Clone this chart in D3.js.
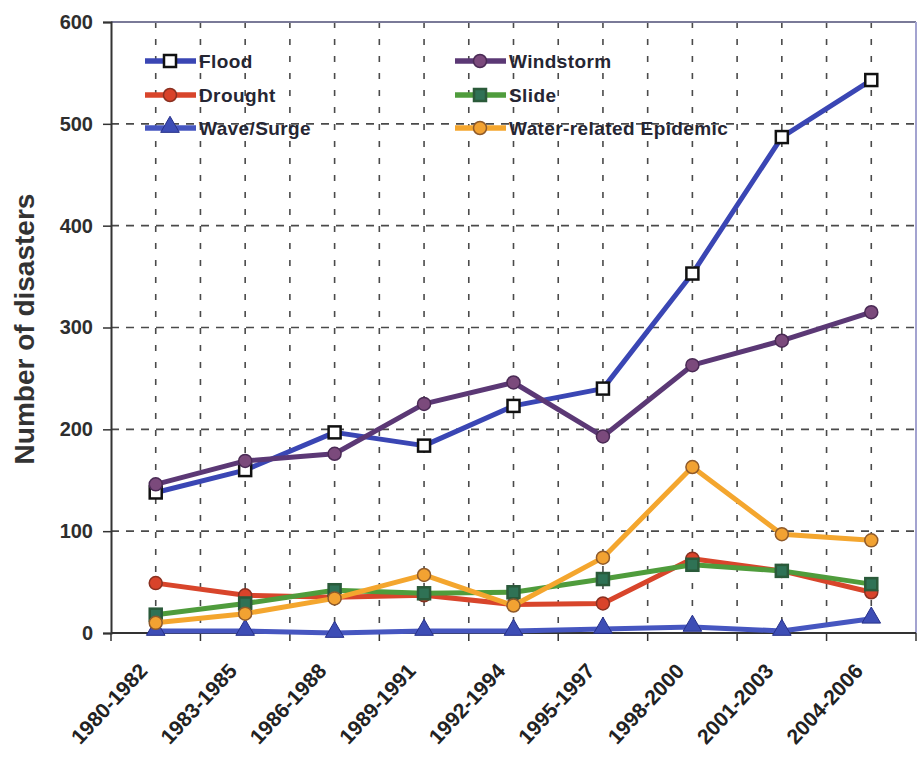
<!DOCTYPE html>
<html>
<head>
<meta charset="utf-8">
<script src="https://cdn.jsdelivr.net/npm/d3@7"></script>
<style>
  html, body { margin: 0; padding: 0; background: #fff; }
  svg { display: block; font-family: "Liberation Sans", Arial, sans-serif; }
</style>
</head>
<body>
<svg id="chart" width="921" height="761"></svg>
<script>
// Periods on the x axis
const periods = ["1980-1982", "1983-1985", "1986-1988", "1989-1991", "1992-1994",
                 "1995-1997", "1998-2000", "2001-2003", "2004-2006"];

// Number of disasters per period, by type
const flood     = [138, 160, 197, 184, 223, 240, 353, 487, 543];
const windstorm = [146, 169, 176, 225, 246, 193, 263, 287, 315];
const drought   = [49, 37, 35, 37, 28, 29, 73, 61, 40];
const slide     = [18, 29, 42, 39, 40, 53, 67, 61, 48];
const epidemic  = [10, 19, 34, 57, 27, 74, 163, 97, 91];
const waveSurge = [2, 2, 0, 2, 2, 4, 6, 2, 14];

const yTicks = [0, 100, 200, 300, 400, 500, 600];
const yTitle = "Number of disasters";

const series = [
  { name: "Flood", values: flood, line: "#3a46b4", marker: "square",
    fill: "#ffffff", stroke: "#111111", col: 0, row: 0 },
  { name: "Windstorm", values: windstorm, line: "#5b3875", marker: "circle",
    fill: "#7b4a7c", stroke: "#4a2a55", col: 1, row: 0 },
  { name: "Drought", values: drought, line: "#d8452b", marker: "circle",
    fill: "#d9432a", stroke: "#8a3020", col: 0, row: 1 },
  { name: "Slide", values: slide, line: "#4f9c3c", marker: "square",
    fill: "#2f7255", stroke: "#2a5a3a", col: 1, row: 1 },
  { name: "Wave/Surge", values: waveSurge, line: "#4656c0", marker: "triangle",
    fill: "#3d4db5", stroke: "#27318a", col: 0, row: 2 },
  { name: "Water-related Epidemic", values: epidemic, line: "#f4a62e", marker: "circle",
    fill: "#f2a232", stroke: "#8f5a2a", col: 1, row: 2 }
];
// Draw order: lower series first so the upper lines sit on top
const drawOrder = ["Wave/Surge", "Drought", "Slide", "Water-related Epidemic", "Flood", "Windstorm"];

const svg = d3.select("#chart");
const plot = { left: 111, right: 916, top: 22, bottom: 633 };

const x = d3.scaleBand().domain(periods).range([plot.left, plot.right]).padding(0);
const y = d3.scaleLinear().domain([0, 600]).range([plot.bottom, plot.top]);
const cx = d => x(d) + x.bandwidth() / 2;

// Grid: dashed horizontal lines at each 100, vertical lines at band edges and centres
const grid = svg.append("g");
grid.selectAll("line.h").data(yTicks.filter(t => t > 0 && t < 600)).join("line")
  .attr("x1", plot.left).attr("x2", plot.right)
  .attr("y1", d => y(d)).attr("y2", d => y(d))
  .attr("stroke", "#4a4a4a").attr("stroke-width", 1.6).attr("stroke-dasharray", "8,7");

const vPos = [];
periods.forEach((p, i) => {
  if (i > 0) vPos.push(x(p));
  vPos.push(cx(p));
});
grid.selectAll("line.v").data(vPos).join("line")
  .attr("x1", d => d).attr("x2", d => d)
  .attr("y1", plot.top).attr("y2", plot.bottom)
  .attr("stroke", "#4a4a4a").attr("stroke-width", 1.6).attr("stroke-dasharray", "6,11");

// Plot frame: top and right edges
svg.append("line").attr("x1", plot.left).attr("x2", plot.right)
  .attr("y1", plot.top).attr("y2", plot.top)
  .attr("stroke", "#7a7a98").attr("stroke-width", 2);
svg.append("line").attr("x1", plot.right).attr("x2", plot.right)
  .attr("y1", plot.top).attr("y2", plot.bottom)
  .attr("stroke", "#a3a3d0").attr("stroke-width", 2);

// Y axis
const yAxis = svg.append("g").attr("transform", `translate(${plot.left},0)`)
  .call(d3.axisLeft(y).tickValues(yTicks).tickSize(8).tickPadding(10));
yAxis.select(".domain").attr("stroke", "#333").attr("stroke-width", 2);
yAxis.selectAll(".tick line").attr("stroke", "#333").attr("stroke-width", 1.5);
yAxis.selectAll(".tick text").attr("font-size", 20).attr("font-weight", "bold")
  .attr("fill", "#2e2e2e").attr("font-family", "Liberation Sans, Arial, sans-serif");

// X axis with ticks at the band edges
const xAxis = svg.append("g").attr("transform", `translate(0,${plot.bottom})`);
xAxis.append("line").attr("x1", plot.left).attr("x2", plot.right)
  .attr("stroke", "#333").attr("stroke-width", 2);
const edges = periods.map(p => x(p)).concat([plot.right]);
xAxis.selectAll("line.t").data(edges).join("line")
  .attr("x1", d => d).attr("x2", d => d).attr("y1", 0).attr("y2", 8)
  .attr("stroke", "#333").attr("stroke-width", 1.5);
xAxis.selectAll("text").data(periods).join("text")
  .attr("transform", d => `translate(${cx(d) - 7},${39}) rotate(-47)`)
  .attr("text-anchor", "end")
  .attr("font-size", 21).attr("font-weight", "bold").attr("fill", "#222")
  .text(d => d);

// Y title
svg.append("text")
  .attr("transform", `translate(34,329) rotate(-90)`)
  .attr("text-anchor", "middle")
  .attr("font-size", 28).attr("font-weight", "bold").attr("fill", "#333")
  .text(yTitle);

// Marker drawing
function drawMarker(g, s, px, py, scale) {
  const k = scale || 1;
  if (s.marker === "square") {
    const h = 6 * k;
    g.append("rect").attr("x", px - h).attr("y", py - h)
      .attr("width", 2 * h).attr("height", 2 * h)
      .attr("fill", s.fill).attr("stroke", s.stroke).attr("stroke-width", 2.5);
  } else if (s.marker === "circle") {
    g.append("circle").attr("cx", px).attr("cy", py).attr("r", 6.5 * k)
      .attr("fill", s.fill).attr("stroke", s.stroke).attr("stroke-width", 1.5);
  } else {
    const sym = d3.symbol().type(d3.symbolTriangle).size(150 * k * k);
    g.append("path").attr("transform", `translate(${px},${py - 1})`)
      .attr("d", sym()).attr("fill", s.fill).attr("stroke", s.stroke).attr("stroke-width", 1);
  }
}

// Series lines and markers
const line = d3.line().x((d, i) => cx(periods[i])).y(d => y(d));
const seriesLayer = svg.append("g");
drawOrder.forEach(name => {
  const s = series.find(t => t.name === name);
  const g = seriesLayer.append("g");
  g.append("path").datum(s.values).attr("d", line)
    .attr("fill", "none").attr("stroke", s.line).attr("stroke-width", 5)
    .attr("stroke-linejoin", "round");
  s.values.forEach((v, i) => drawMarker(g, s, cx(periods[i]), y(v)));
});

// Legend
const legend = svg.append("g");
const colX = [145, 455];
const rowY = [61, 95, 128];
series.forEach(s => {
  const lx = colX[s.col], ly = rowY[s.row];
  const g = legend.append("g");
  g.append("line").attr("x1", lx).attr("x2", lx + 51).attr("y1", ly).attr("y2", ly)
    .attr("stroke", s.line).attr("stroke-width", 5.5);
  drawMarker(g, s, lx + 25, ly, 1);
  g.append("text").attr("x", lx + 54).attr("y", ly + 7)
    .attr("font-size", 19).attr("font-weight", "bold").attr("fill", "#262633")
    .attr("letter-spacing", 0.4)
    .text(s.name);
});
</script>
</body>
</html>
